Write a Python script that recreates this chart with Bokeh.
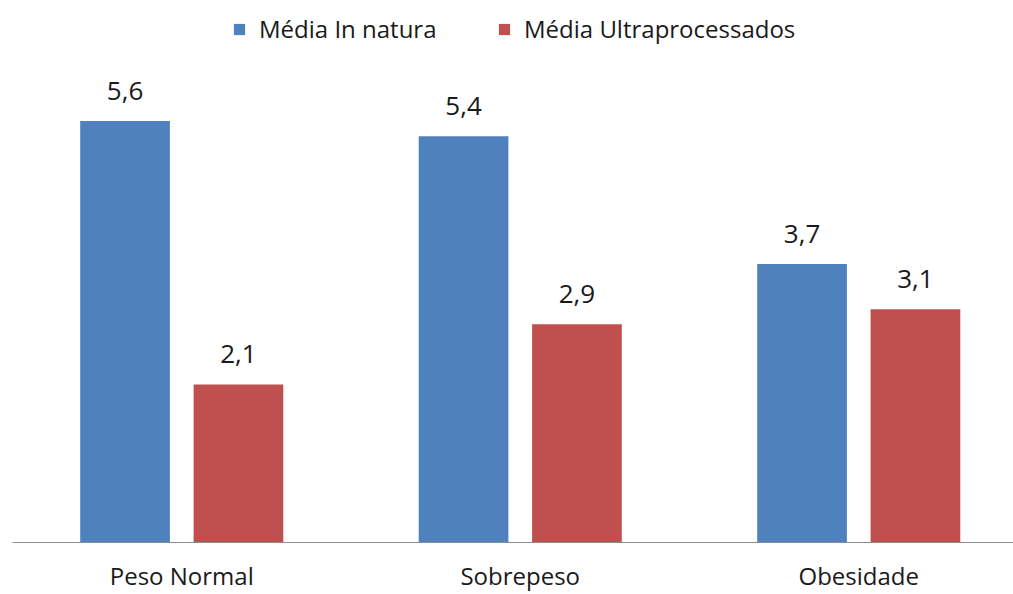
from bokeh.plotting import figure
from bokeh.models import ColumnDataSource, Range1d, LabelSet, Legend, LegendItem, FixedTicker
from bokeh.core.properties import value
from bokeh.embed import file_html
from bokeh.resources import INLINE

# ---- data ----
categories = ["Peso Normal", "Sobrepeso", "Obesidade"]
in_natura = [5.6, 5.4, 3.7]
ultra = [2.1, 2.9, 3.1]
series_names = ["Média In natura", "Média Ultraprocessados"]
colors = ["#4F81BD", "#C0504D"]

FONT = "Open Sans"
W, H = 1013, 594
frame_left = 12
frame_w = W - frame_left
cat_px = 338.5
bottom_border = 52
frame_h = H - bottom_border
px_per_unit = 75.25

centers = [i + 0.5 for i in range(len(categories))]
off = 0.1675
bw = 0.265

p = figure(width=W, height=H, output_backend="svg", toolbar_location=None,
           x_range=Range1d(0, frame_w / cat_px), y_range=Range1d(0, frame_h / px_per_unit),
           y_axis_location=None, min_border_left=frame_left, min_border_right=0,
           min_border_top=0, min_border_bottom=bottom_border)
p.outline_line_color = None
p.grid.visible = False
p.background_fill_color = "white"
p.border_fill_color = "white"

src1 = ColumnDataSource(dict(x=[c - off for c in centers], top=in_natura,
                             txt=[f"{v:.1f}".replace(".", ",") for v in in_natura]))
src2 = ColumnDataSource(dict(x=[c + off for c in centers], top=ultra,
                             txt=[f"{v:.1f}".replace(".", ",") for v in ultra]))

r1 = p.vbar(x="x", top="top", width=bw, bottom=0, source=src1, fill_color=colors[0], line_color=None)
r2 = p.vbar(x="x", top="top", width=bw, bottom=0, source=src2, fill_color=colors[1], line_color=None)

for s in (src1, src2):
    p.add_layout(LabelSet(x="x", y="top", text="txt", source=s, text_align="center",
                          text_baseline="alphabetic", y_offset=21, text_font=value(FONT),
                          text_font_size=value("26px"), text_color="#1a1a1a"))

ax = p.xaxis[0]
ax.ticker = FixedTicker(ticks=centers)
ax.major_label_overrides = {c: n for c, n in zip(centers, categories)}
ax.major_tick_line_color = None
ax.minor_tick_line_color = None
ax.axis_line_color = "#8c8c8c"
ax.axis_line_width = 1
ax.major_label_text_font = FONT
ax.major_label_text_font_size = "24px"
ax.major_label_text_color = "#1a1a1a"
ax.major_label_standoff = 10

leg_x = [232 - frame_left, 497 - frame_left]
for i, (r, name) in enumerate(zip((r1, r2), series_names)):
    lg = Legend(items=[LegendItem(label=name, renderers=[r])], location=(leg_x[i], 497),
                orientation="horizontal", padding=0, margin=0, border_line_color=None,
                background_fill_alpha=0, glyph_width=14, glyph_height=14, label_standoff=13,
                label_text_font=FONT, label_text_font_size="24px", label_text_color="#1a1a1a")
    p.add_layout(lg)

open("out.html", "w").write(file_html(p, INLINE))
